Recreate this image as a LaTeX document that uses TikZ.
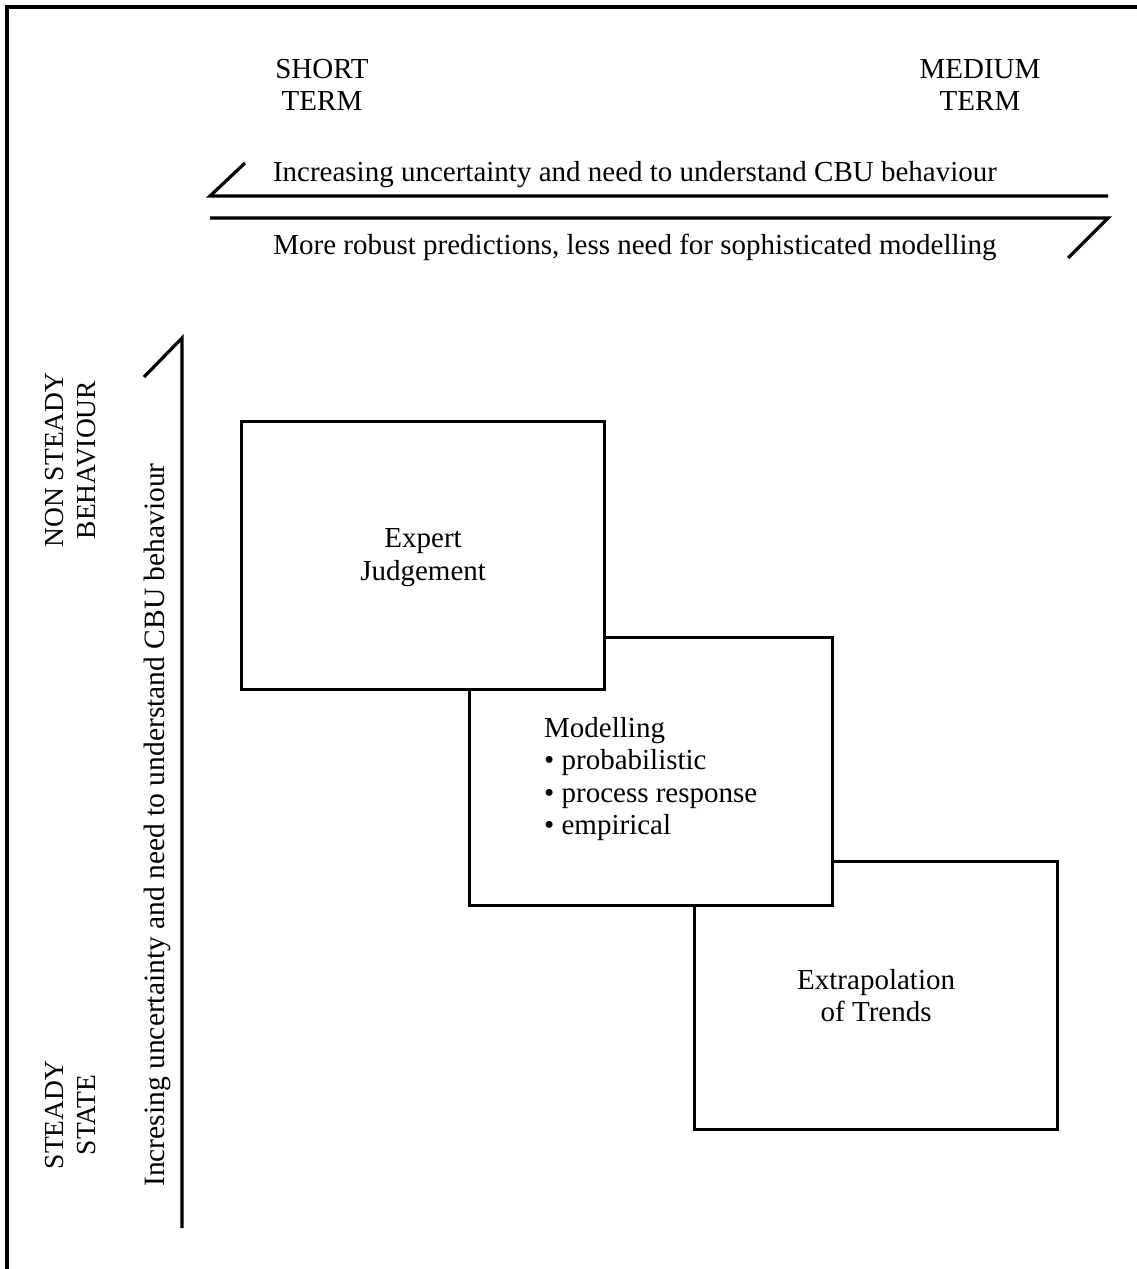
\documentclass[tikz,border=0pt]{standalone}
\usepackage{fontspec}
\setmainfont{Liberation Serif}
\begin{document}
\begin{tikzpicture}[x=1pt,y=-1pt,
  every node/.style={font=\fontsize{29}{32.5}\selectfont, inner sep=0pt},
  sidelabel/.style={font=\fontsize{27.5}{32}\selectfont},
  rule/.style={line width=3.2pt, line cap=butt, line join=miter},
  panel/.style={rule, draw, fill=white, minimum width=363pt, minimum height=268pt, anchor=north west}]
\useasboundingbox (0,0) rectangle (1136,1269);
% frame
\draw[rule] (7,1290) -- (7,7) -- (1150,7);

% horizon headings
\node[align=center] (short) at (322,85) {SHORT\\TERM};
\node[align=center] (medium) at (980,85) {MEDIUM\\TERM};

% half arrows along the time axis
\coordinate (ua) at (210,196);
\coordinate (ub) at (1108,196);
\coordinate (ut) at (245,163);
\coordinate (la) at (210,218);
\coordinate (lb) at (1108,218);
\coordinate (lt) at (1068,258);
\draw[rule] (ut) -- (ua) -- (ub);
\draw[rule] (la) -- (lb) -- (lt);
\node (uncert) at (635,175) {Increasing uncertainty and need to understand CBU behaviour};
\node (robust) at (635,247) {More robust predictions, less need for sophisticated modelling};

% vertical half arrow
\coordinate (vb) at (182,1228);
\coordinate (vt) at (182,338);
\coordinate (vs) at (144,377);
\draw[rule] (vb) -- (vt) -- (vs);
\node[rotate=90, font=\fontsize{29.5}{32}\selectfont] (vlabel) at (157,825) {Incresing uncertainty and need to understand CBU behaviour};
\node[rotate=90, align=center, sidelabel] (nonsteady) at (71,460) {NON STEADY\\BEHAVIOUR};
\node[rotate=90, align=center, sidelabel] (steady) at (71,1115) {STEADY\\STATE};

% staggered method boxes, back to front
\node[panel] (extra) at (693,860) {};
\node[align=center] at (extra.center) {Extrapolation\\of Trends};
\node[panel] (model) at (468,636) {};
\node[align=left, anchor=west] (modeltxt) at (544,779) {Modelling\\\textbullet\ probabilistic\\\textbullet\ process response\\\textbullet\ empirical};
\node[panel] (expert) at (240,420) {};
\node[align=center] at ([yshift=-2pt]expert.center) {Expert\\Judgement};
\end{tikzpicture}
\end{document}
